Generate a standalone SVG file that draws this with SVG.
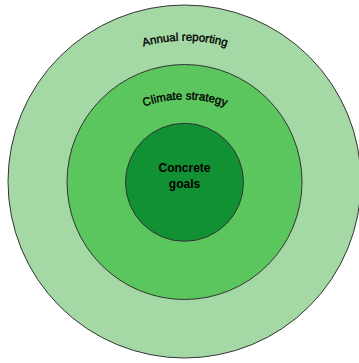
<svg xmlns="http://www.w3.org/2000/svg" width="359" height="363" viewBox="0 0 359 363">
<style>
.ring{stroke:#333;stroke-width:1}
.lbl{font-family:"Liberation Sans",Arial,sans-serif;font-size:11.5px;fill:#000;stroke:#000;stroke-width:0.35}
.ctr{font-family:"Liberation Sans",Arial,sans-serif;font-size:12px;font-weight:bold;fill:#000}
</style>
<defs>
<path id="arcOuter" d="M 125 53.2 A 150 150 0 0 1 245 53.2" fill="none"/>
<path id="arcMid" d="M 125 115.5 A 120 120 0 0 1 245 115.5" fill="none"/>
</defs>
<rect width="359" height="363" fill="#fff"/>
<g id="annual-reporting">
<circle class="ring" cx="184.5" cy="181.5" r="176.5" fill="#a4d9a5"/>
<text class="lbl"><textPath href="#arcOuter" startOffset="50%" text-anchor="middle">Annual reporting</textPath></text>
</g>
<g id="climate-strategy">
<circle class="ring" cx="184.5" cy="182" r="117.5" fill="#5cc65e"/>
<text class="lbl"><textPath href="#arcMid" startOffset="50%" text-anchor="middle">Climate strategy</textPath></text>
</g>
<g id="concrete-goals">
<circle class="ring" cx="184.5" cy="182.3" r="59" fill="#129034"/>
<text class="ctr" x="184.5" y="172" text-anchor="middle">Concrete</text>
<text class="ctr" x="184.5" y="188.3" text-anchor="middle">goals</text>
</g>
<g id="connectors"></g>
</svg>
